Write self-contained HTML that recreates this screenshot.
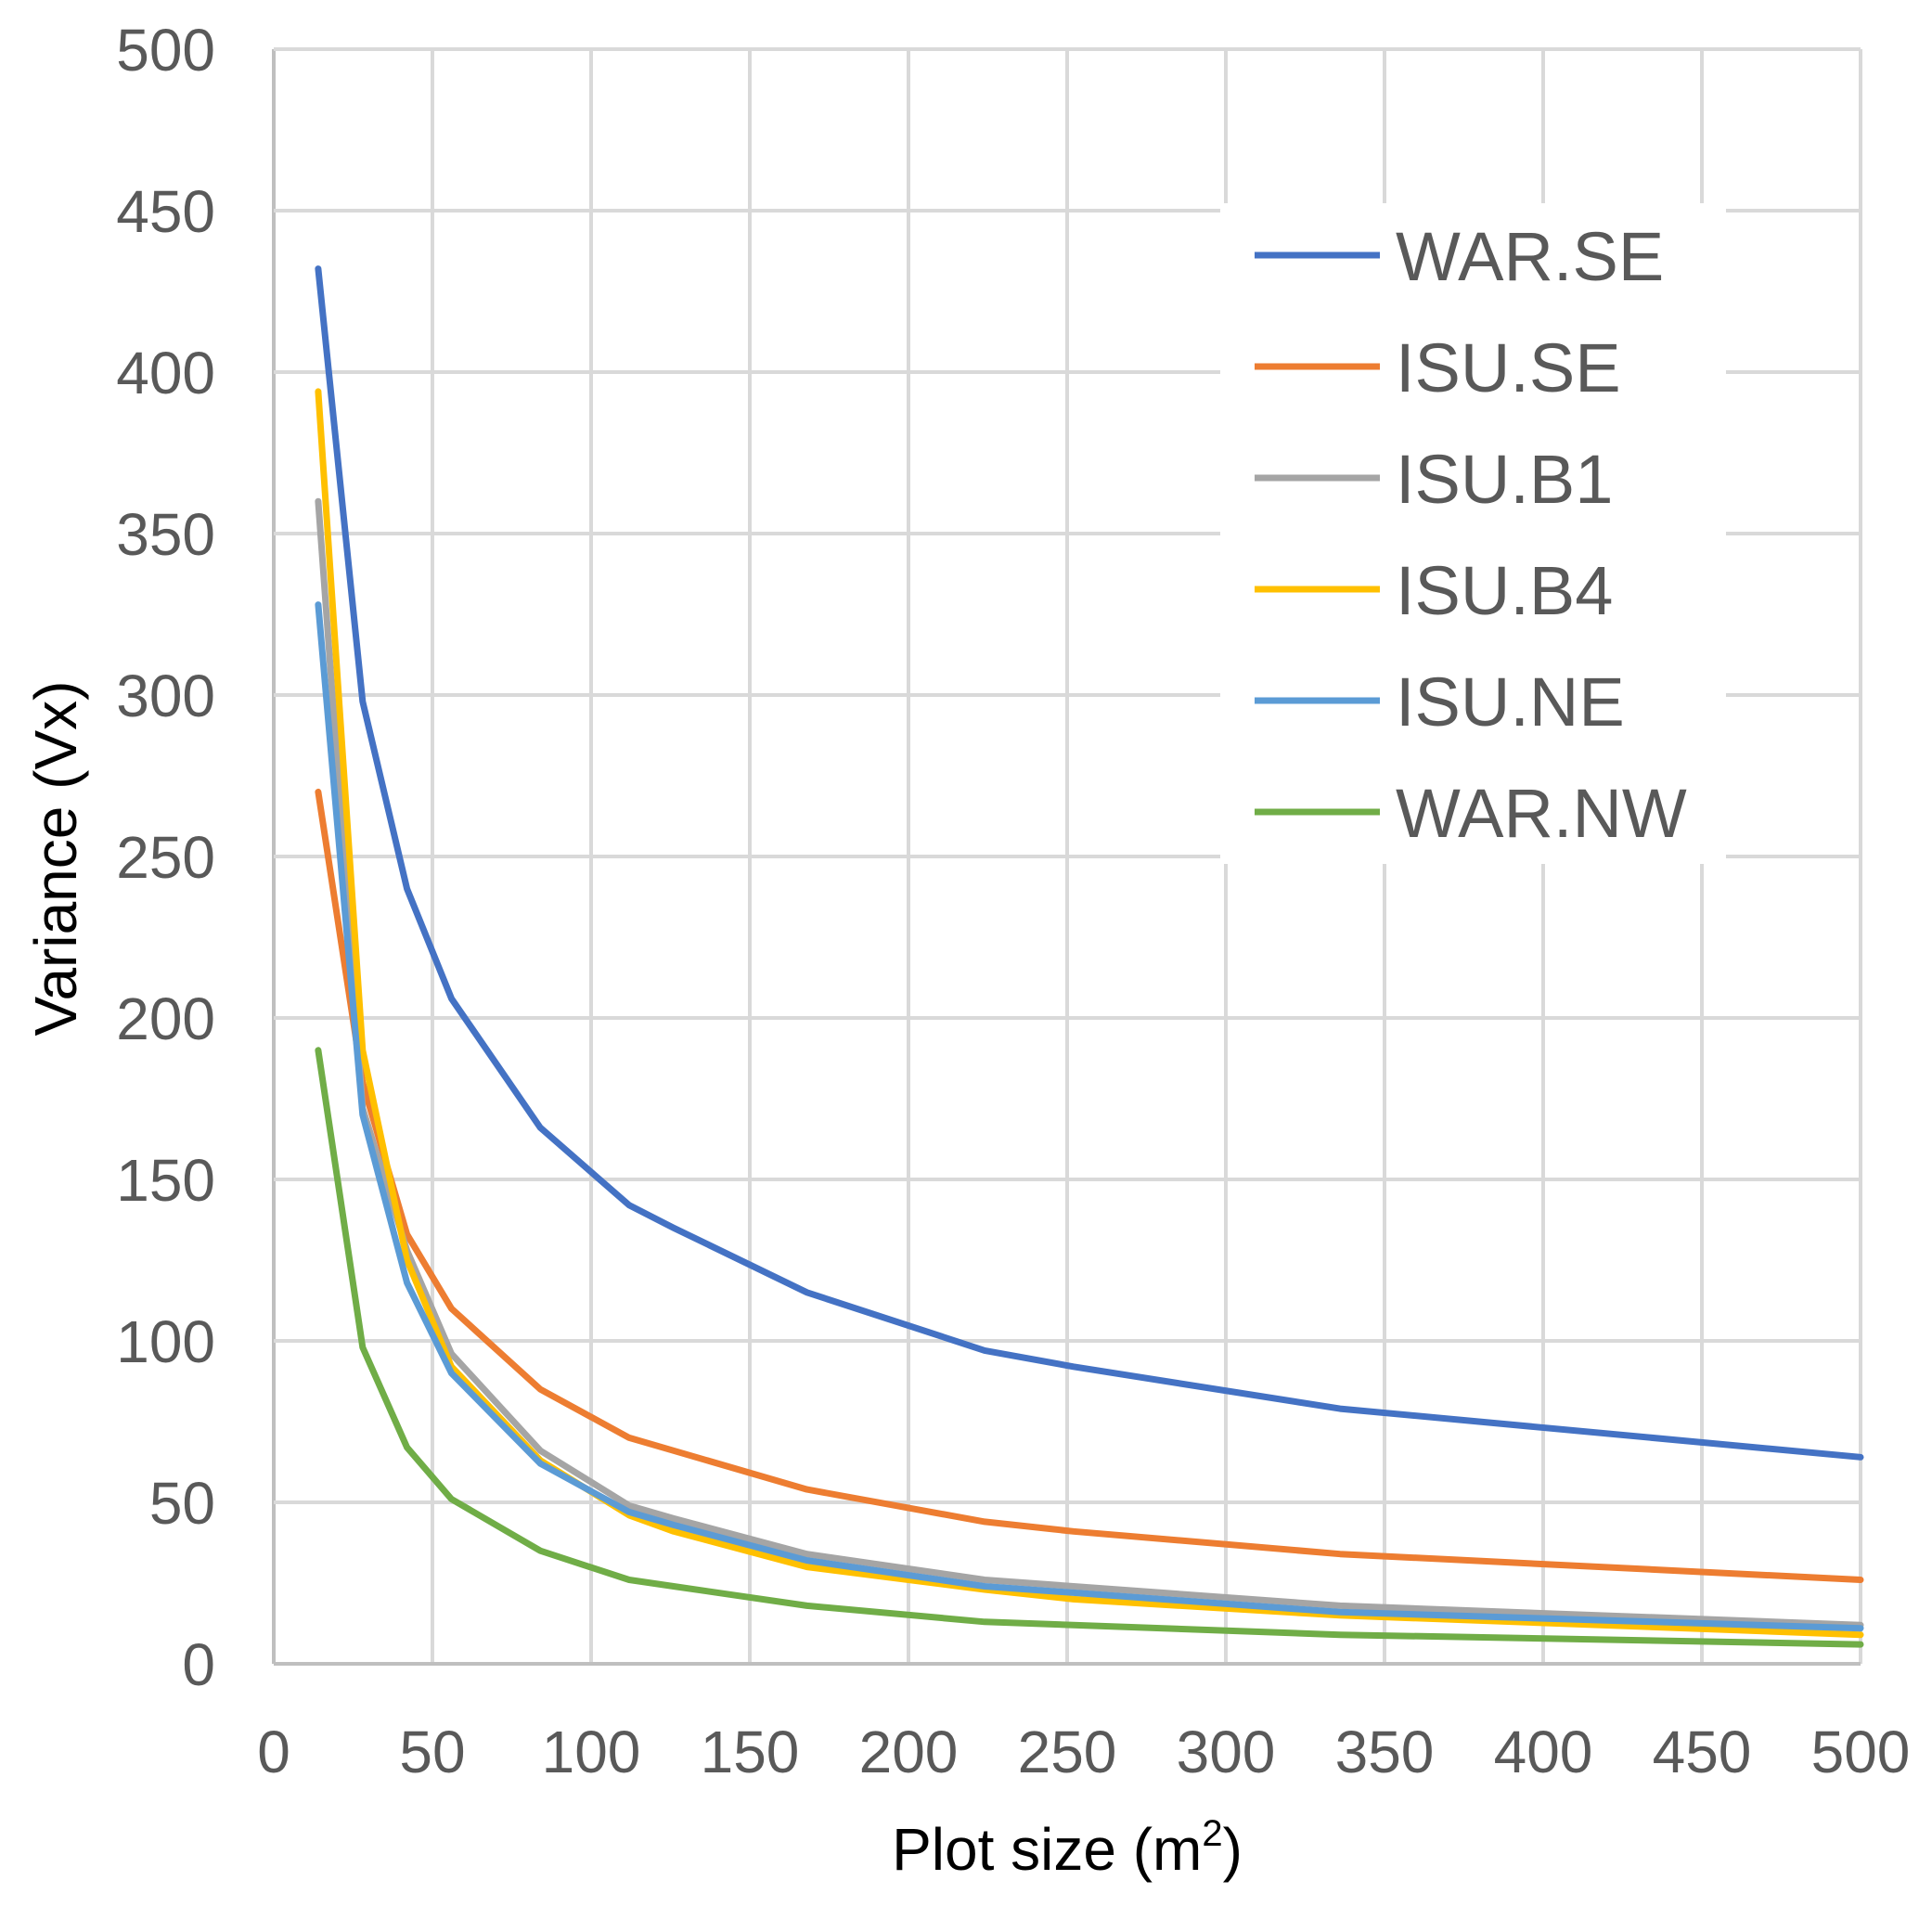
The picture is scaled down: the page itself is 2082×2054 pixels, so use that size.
<!DOCTYPE html>
<html><head><meta charset="utf-8"><style>
html,body{margin:0;padding:0;background:#fff;}
svg{display:block;font-family:"Liberation Sans","DejaVu Sans",sans-serif;}
</style></head><body>
<svg id="chart" width="2082" height="2054" viewBox="0 0 2082 2054" xmlns="http://www.w3.org/2000/svg">
<rect width="2082" height="2054" fill="#fff"/>
<g id="grid"></g><g id="axes"></g><g id="series"></g><g id="legend"></g>
<text x="1150" y="2015" font-size="64" text-anchor="middle" fill="#000">Plot size (m<tspan font-size="40" dy="-26">2</tspan><tspan dy="26">)</tspan></text>
<text transform="translate(82,925) rotate(-90)" font-size="64" text-anchor="middle" fill="#000">Variance (Vx)</text>
</svg>
<script>
const xValues=[14,28,42,56,84,112,126,168,224,252,336,500];
const seriesNames=["WAR.SE","ISU.SE","ISU.B1","ISU.B4","ISU.NE","WAR.NW"];
const warSE=[432,298,240,206,166,142,135,115,97,92,79,64];
const isuSE=[270,180,133,110,85,70,66,54,44,41,34,26];
const isuB1=[360,172,128,96,66,49,45,34,26,24,18,12];
const isuB4=[394,190,125,92,63,46,41,30,23,20,15,9];
const isuNE=[328,170,118,90,62,47,43,32,24,22,16,11];
const warNW=[190,98,67,51,35,26,24,18,13,12,9,6];
const xTicks=[0,50,100,150,200,250,300,350,400,450,500];
const yTicks=[0,50,100,150,200,250,300,350,400,450,500];
const colors=["#4472c4","#ed7d31","#a5a5a5","#ffc000","#5b9bd5","#70ad47"];
const allSeries=[warSE,isuSE,isuB1,isuB4,isuNE,warNW];
const L=295,R=2005,T=53,B=1793;
const xs=v=>L+(v/500)*(R-L);
const ys=v=>B-(v/500)*(B-T);
const NS="http://www.w3.org/2000/svg";
function mk(tag,parent,attrs){const e=document.createElementNS(NS,tag);for(const k in attrs)e.setAttribute(k,attrs[k]);parent.appendChild(e);return e;}
const grid=document.getElementById('grid'),axes=document.getElementById('axes'),ser=document.getElementById('series'),leg=document.getElementById('legend');
xTicks.forEach(t=>{
  const l=mk('line',grid,{x1:xs(t),x2:xs(t),y1:T,y2:B,stroke:t===0?'#bfbfbf':'#d9d9d9','stroke-width':4});
  
  
  const tx=mk('text',axes,{x:xs(t),y:1910,'font-size':64,'text-anchor':'middle',fill:'#595959'});
  tx.textContent=t;
  
  
});
yTicks.forEach(t=>{
  const l=mk('line',grid,{x1:L,x2:R,y1:ys(t),y2:ys(t),stroke:t===0?'#bfbfbf':'#d9d9d9','stroke-width':4});
  
  
  const tx=mk('text',axes,{x:232,y:ys(t)+23,'font-size':64,'text-anchor':'end',fill:'#595959'});
  tx.textContent=t;
  
  
});
allSeries.forEach((s,i)=>{
  const d=s.map((v,j)=>(j?'L':'M')+xs(xValues[j]).toFixed(1)+' '+ys(v).toFixed(1)).join(' ');
  const p=mk('path',ser,{d:d,fill:'none',stroke:colors[i],'stroke-width':7,'stroke-linejoin':'round','stroke-linecap':'round'});
  
  
});
const box=mk('rect',leg,{x:1315,y:219,width:545,height:712,fill:'#fff'});


seriesNames.forEach((n,i)=>{
  const y=275+i*120;
  const g=mk('g',leg,{});
  
  
  mk('line',g,{x1:1352,x2:1487,y1:y,y2:y,stroke:colors[i],'stroke-width':7});
  const t=mk('text',g,{x:1504,y:y+27,'font-size':74,fill:'#595959'});
  t.textContent=n;
});
</script>
</body></html>
